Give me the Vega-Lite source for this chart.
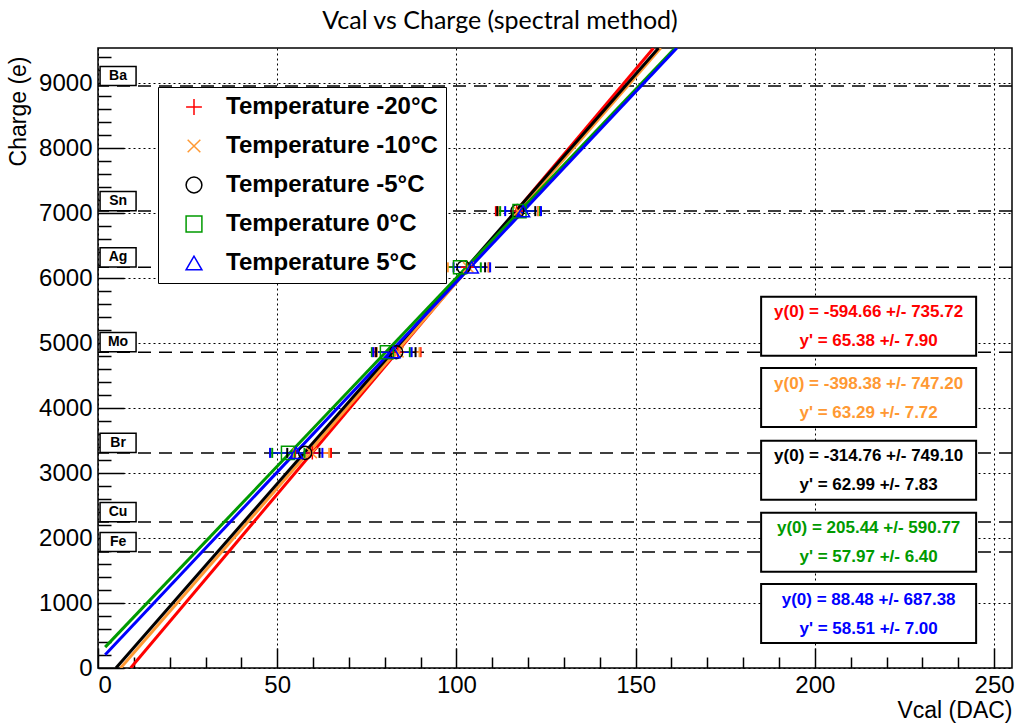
{
  "$schema": "https://vega.github.io/schema/vega-lite/v6.json",
  "width": 914,
  "height": 620,
  "autosize": "none",
  "padding": {"left": 98, "top": 48, "right": 4, "bottom": 57},
  "background": "white",
  "title": {"text": "Vcal vs Charge (spectral method)", "font": "Lato", "fontSize": 25, "fontWeight": "normal", "color": "black", "anchor": "middle", "dx": -55, "offset": 14},
  "config": {
    "view": {"stroke": "black", "strokeWidth": 1.5},
    "axis": {"domain": false, "labelFont": "Liberation Sans", "labelFontSize": 24, "labelColor": "black", "titleFont": "Liberation Sans", "titleFontSize": 23, "titleFontWeight": "normal", "titleColor": "black", "gridColor": "black", "gridDash": [2, 3], "gridWidth": 1, "gridOpacity": 1, "tickColor": "black", "tickWidth": 1.5},
    "legend": {"orient": "none", "legendX": 60, "legendY": 39, "strokeColor": "black", "fillColor": "white", "padding": 8, "labelFont": "Liberation Sans", "labelFontSize": 24, "labelFontWeight": "bold", "labelColor": "black", "symbolSize": 250, "symbolStrokeWidth": 1.5, "rowPadding": 15, "labelOffset": 20, "symbolOffset": 16, "labelLimit": 400, "cornerRadius": 0}
  },
  "datasets": {
    "elements": [
      {"element": "Ba", "charge": 8955},
      {"element": "Sn", "charge": 7030},
      {"element": "Ag", "charge": 6165},
      {"element": "Mo", "charge": 4860},
      {"element": "Br", "charge": 3310},
      {"element": "Cu", "charge": 2245},
      {"element": "Fe", "charge": 1785}
    ],
    "fits": [
      {"series": "Temperature -20°C", "vcal": 9.1, "charge": 0},
      {"series": "Temperature -20°C", "vcal": 155.0, "charge": 9540},
      {"series": "Temperature -10°C", "vcal": 6.3, "charge": 0},
      {"series": "Temperature -10°C", "vcal": 157.0, "charge": 9540},
      {"series": "Temperature -5°C", "vcal": 5.0, "charge": 0},
      {"series": "Temperature -5°C", "vcal": 156.4, "charge": 9540},
      {"series": "Temperature 0°C", "vcal": 2.0, "charge": 321},
      {"series": "Temperature 0°C", "vcal": 161.0, "charge": 9540},
      {"series": "Temperature 5°C", "vcal": 2.0, "charge": 205},
      {"series": "Temperature 5°C", "vcal": 161.5, "charge": 9540}
    ],
    "points": [
      {"series": "Temperature -20°C", "element": "Br", "charge": 3310, "vcal": 59.8, "xlo": 55.0, "xhi": 65.0},
      {"series": "Temperature -20°C", "element": "Mo", "charge": 4860, "vcal": 83.6, "xlo": 77.4, "xhi": 90.0},
      {"series": "Temperature -20°C", "element": "Ag", "charge": 6165, "vcal": 103.0, "xlo": 97.0, "xhi": 109.0},
      {"series": "Temperature -20°C", "element": "Sn", "charge": 7030, "vcal": 116.8, "xlo": 111.0, "xhi": 122.8},
      {"series": "Temperature -10°C", "element": "Br", "charge": 3310, "vcal": 59.6, "xlo": 54.6, "xhi": 64.5},
      {"series": "Temperature -10°C", "element": "Mo", "charge": 4860, "vcal": 83.8, "xlo": 77.8, "xhi": 89.7},
      {"series": "Temperature -10°C", "element": "Ag", "charge": 6165, "vcal": 103.3, "xlo": 97.6, "xhi": 109.0},
      {"series": "Temperature -10°C", "element": "Sn", "charge": 7030, "vcal": 117.2, "xlo": 111.6, "xhi": 122.8},
      {"series": "Temperature -5°C", "element": "Br", "charge": 3310, "vcal": 57.8, "xlo": 52.8, "xhi": 61.8},
      {"series": "Temperature -5°C", "element": "Mo", "charge": 4860, "vcal": 83.2, "xlo": 77.6, "xhi": 88.6},
      {"series": "Temperature -5°C", "element": "Ag", "charge": 6165, "vcal": 102.0, "xlo": 96.6, "xhi": 108.0},
      {"series": "Temperature -5°C", "element": "Sn", "charge": 7030, "vcal": 117.0, "xlo": 111.4, "xhi": 122.0},
      {"series": "Temperature 0°C", "element": "Br", "charge": 3310, "vcal": 53.0, "xlo": 48.6, "xhi": 57.6},
      {"series": "Temperature 0°C", "element": "Mo", "charge": 4860, "vcal": 80.6, "xlo": 76.4, "xhi": 87.0},
      {"series": "Temperature 0°C", "element": "Ag", "charge": 6165, "vcal": 101.0, "xlo": 96.2, "xhi": 106.8},
      {"series": "Temperature 0°C", "element": "Sn", "charge": 7030, "vcal": 117.6, "xlo": 112.2, "xhi": 123.3},
      {"series": "Temperature 5°C", "element": "Br", "charge": 3310, "vcal": 55.3, "xlo": 48.0, "xhi": 62.6},
      {"series": "Temperature 5°C", "element": "Mo", "charge": 4860, "vcal": 82.4, "xlo": 76.8, "xhi": 87.5},
      {"series": "Temperature 5°C", "element": "Ag", "charge": 6165, "vcal": 104.3, "xlo": 99.2, "xhi": 109.4},
      {"series": "Temperature 5°C", "element": "Sn", "charge": 7030, "vcal": 118.6, "xlo": 113.6, "xhi": 123.6}
    ],
    "boxes": [
      {"series": "Temperature -20°C", "line1": "y(0) = -594.66 +/- 735.72", "line2": "y' = 65.38 +/- 7.90", "charge": 5258},
      {"series": "Temperature -10°C", "line1": "y(0) = -398.38 +/- 747.20", "line2": "y' = 63.29 +/- 7.72", "charge": 4162},
      {"series": "Temperature -5°C", "line1": "y(0) = -314.76 +/- 749.10", "line2": "y' = 62.99 +/- 7.83", "charge": 3042},
      {"series": "Temperature 0°C", "line1": "y(0) = 205.44 +/- 590.77", "line2": "y' = 57.97 +/- 6.40", "charge": 1935},
      {"series": "Temperature 5°C", "line1": "y(0) = 88.48 +/- 687.38", "line2": "y' = 58.51 +/- 7.00", "charge": 838}
    ]
  },
  "layer": [
    {
      "data": {"name": "elements"},
      "mark": {"type": "rule", "color": "black", "strokeWidth": 1.5, "strokeDash": [13, 8]},
      "encoding": {
        "y": {"field": "charge", "type": "quantitative", "scale": {"domain": [0, 9540], "nice": false, "zero": false},
              "axis": {"orient": "left", "values": [0, 1000, 2000, 3000, 4000, 5000, 6000, 7000, 8000, 9000], "format": "d", "grid": true, "ticks": false, "labelPadding": 6, "title": "Charge (e)", "titleAnchor": "end", "titleY": 8, "titlePadding": 8}}
      }
    },
    {
      "data": {"name": "fits"},
      "mark": {"type": "line", "strokeWidth": 3, "clip": true},
      "encoding": {
        "x": {"field": "vcal", "type": "quantitative", "scale": {"domain": [0, 255], "nice": false, "zero": false},
              "axis": {"orient": "bottom", "values": [0, 50, 100, 150, 200, 250], "grid": true, "ticks": false, "labelPadding": 5, "title": "Vcal (DAC)", "titleAnchor": "end", "titlePadding": 2}},
        "y": {"field": "charge", "type": "quantitative",
              "axis": {"orient": "left", "values": [0, 1000, 2000, 3000, 4000, 5000, 6000, 7000, 8000, 9000], "grid": false, "labels": false, "tickSize": -26, "title": null}},
        "color": {"field": "series", "type": "nominal", "legend": null,
                  "scale": {"domain": ["Temperature -20°C", "Temperature -10°C", "Temperature -5°C", "Temperature 0°C", "Temperature 5°C"], "range": ["#ff0000", "#ff9933", "#000000", "#009a00", "#0000ff"]}},
        "order": {"field": "vcal", "type": "quantitative"}
      }
    },
    {
      "data": {"name": "points"},
      "mark": {"type": "rule", "strokeWidth": 1.5},
      "encoding": {
        "x": {"field": "xlo", "type": "quantitative",
              "axis": {"orient": "bottom", "values": [0, 50, 100, 150, 200, 250], "grid": false, "labels": false, "tickSize": -20, "title": null}},
        "x2": {"field": "xhi"},
        "y": {"field": "charge", "type": "quantitative",
              "axis": {"orient": "left", "values": [200, 400, 600, 800, 1200, 1400, 1600, 1800, 2200, 2400, 2600, 2800, 3200, 3400, 3600, 3800, 4200, 4400, 4600, 4800, 5200, 5400, 5600, 5800, 6200, 6400, 6600, 6800, 7200, 7400, 7600, 7800, 8200, 8400, 8600, 8800, 9200, 9400], "grid": false, "labels": false, "tickSize": -13, "title": null}},
        "color": {"field": "series", "type": "nominal", "legend": null}
      }
    },
    {
      "data": {"name": "points"},
      "mark": {"type": "point", "shape": "M0,-1V1", "size": 100, "strokeWidth": 2, "filled": false, "opacity": 1},
      "encoding": {
        "x": {"field": "xlo", "type": "quantitative",
              "axis": {"orient": "bottom", "values": [10, 20, 30, 40, 60, 70, 80, 90, 110, 120, 130, 140, 160, 170, 180, 190, 210, 220, 230, 240], "grid": false, "labels": false, "tickSize": -11, "title": null}},
        "y": {"field": "charge", "type": "quantitative", "axis": null},
        "color": {"field": "series", "type": "nominal", "legend": null}
      }
    },
    {
      "data": {"name": "points"},
      "mark": {"type": "point", "shape": "M0,-1V1", "size": 100, "strokeWidth": 2, "filled": false, "opacity": 1},
      "encoding": {
        "x": {"field": "xhi", "type": "quantitative", "axis": null},
        "y": {"field": "charge", "type": "quantitative", "axis": null},
        "color": {"field": "series", "type": "nominal", "legend": null}
      }
    },
    {
      "data": {"name": "points"},
      "mark": {"type": "point", "size": 170, "strokeWidth": 1.5, "filled": false, "opacity": 1},
      "encoding": {
        "x": {"field": "vcal", "type": "quantitative", "axis": null},
        "y": {"field": "charge", "type": "quantitative", "axis": null},
        "color": {"field": "series", "type": "nominal", "legend": {"title": null}},
        "shape": {"field": "series", "type": "nominal", "legend": {"title": null},
                  "scale": {"domain": ["Temperature -20°C", "Temperature -10°C", "Temperature -5°C", "Temperature 0°C", "Temperature 5°C"], "range": ["M-1,0H1M0,-1V1", "M-0.8,-0.8L0.8,0.8M-0.8,0.8L0.8,-0.8", "circle", "square", "triangle-up"]}}
      }
    },
    {
      "data": {"name": "elements"},
      "mark": {"type": "point", "shape": "M-1,-0.53H1V0.53H-1Z", "size": 1296, "filled": true, "fill": "white", "stroke": "black", "strokeWidth": 1.5, "opacity": 1, "yOffset": -10},
      "encoding": {
        "x": {"datum": 5.6, "type": "quantitative", "axis": null},
        "y": {"field": "charge", "type": "quantitative", "axis": null}
      }
    },
    {
      "data": {"name": "elements"},
      "mark": {"type": "text", "font": "Liberation Sans", "fontSize": 14, "fontWeight": "bold", "color": "black", "align": "center", "baseline": "middle", "yOffset": -10},
      "encoding": {
        "x": {"datum": 5.6, "type": "quantitative", "axis": null},
        "y": {"field": "charge", "type": "quantitative", "axis": null},
        "text": {"field": "element"}
      }
    },
    {
      "data": {"name": "boxes"},
      "mark": {"type": "point", "shape": "M-1,-0.274H1V0.274H-1Z", "size": 46225, "filled": true, "fill": "white", "stroke": "black", "strokeWidth": 2, "opacity": 1},
      "encoding": {
        "x": {"datum": 215, "type": "quantitative", "axis": null},
        "y": {"field": "charge", "type": "quantitative", "axis": null}
      }
    },
    {
      "data": {"name": "boxes"},
      "mark": {"type": "text", "font": "Liberation Sans", "fontSize": 17, "fontWeight": "bold", "align": "center", "baseline": "middle", "dy": -14},
      "encoding": {
        "x": {"datum": 215, "type": "quantitative", "axis": null},
        "y": {"field": "charge", "type": "quantitative", "axis": null},
        "text": {"field": "line1"},
        "color": {"field": "series", "type": "nominal", "legend": null}
      }
    },
    {
      "data": {"name": "boxes"},
      "mark": {"type": "text", "font": "Liberation Sans", "fontSize": 17, "fontWeight": "bold", "align": "center", "baseline": "middle", "dy": 15},
      "encoding": {
        "x": {"datum": 215, "type": "quantitative", "axis": null},
        "y": {"field": "charge", "type": "quantitative", "axis": null},
        "text": {"field": "line2"},
        "color": {"field": "series", "type": "nominal", "legend": null}
      }
    }
  ],
  "resolve": {"axis": {"x": "independent", "y": "independent"}, "legend": {"color": "independent", "shape": "independent"}}
}
